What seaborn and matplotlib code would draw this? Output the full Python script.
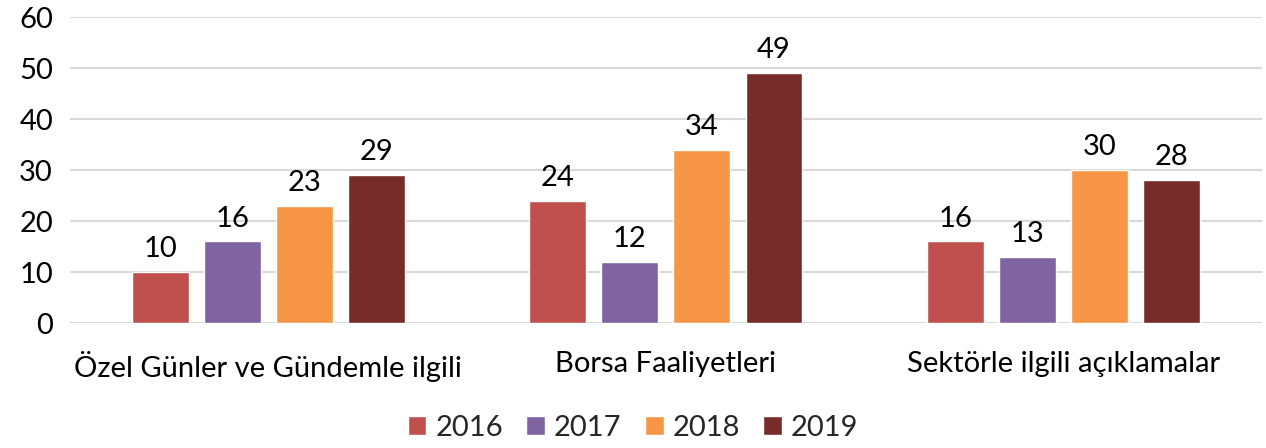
import pandas as pd
import matplotlib.pyplot as plt
import seaborn as sns

categories = ['Özel Günler ve Gündemle ilgili', 'Borsa Faaliyetleri', 'Sektörle ilgili açıklamalar']
years = ['2016', '2017', '2018', '2019']
values_2016 = [10, 24, 16]
values_2017 = [16, 12, 13]
values_2018 = [23, 34, 30]
values_2019 = [29, 49, 28]
colors = ['#C0504D', '#8064A2', '#F79646', '#772C2A']

rows = []
for year, vals in zip(years, [values_2016, values_2017, values_2018, values_2019]):
    for cat, v in zip(categories, vals):
        rows.append({'Kategori': cat, 'Yıl': year, 'Değer': v})
df = pd.DataFrame(rows)

sns.set_style("white")
plt.rcParams['font.family'] = ['Lato', 'DejaVu Sans']

fig = plt.figure(figsize=(12.66, 4.48), dpi=100)
ax = fig.add_axes([0.055, 0.279, 0.942, 0.683])

sns.barplot(data=df, x='Kategori', y='Değer', hue='Yıl', palette=colors,
            width=0.725, gap=0.21, ax=ax, saturation=1, legend=True)

for cont in ax.containers:
    ax.bar_label(cont, padding=7, fontsize=21, color='black')

ax.set_ylim(0, 60)
ax.set_yticks(range(0, 61, 10))
ax.yaxis.grid(True, color='#D9D9D9', linewidth=1.5)
ax.set_axisbelow(True)
for s in ax.spines.values():
    s.set_visible(False)
ax.tick_params(axis='both', length=0, labelsize=21, colors='black')
ax.tick_params(axis='x', pad=20)
ax.tick_params(axis='y', pad=12)
ax.set_xlabel('')
ax.set_ylabel('')
ax.set_xlim(-0.5, 2.5)

ax.legend(loc='center', bbox_to_anchor=(0.5, (448 - 428) / 448), bbox_transform=fig.transFigure,
          ncol=4, frameon=False, fontsize=21, handlelength=0.65, handleheight=0.65,
          handletextpad=0.3, columnspacing=0.8, borderaxespad=0)

fig.savefig('out.png', dpi=100)
